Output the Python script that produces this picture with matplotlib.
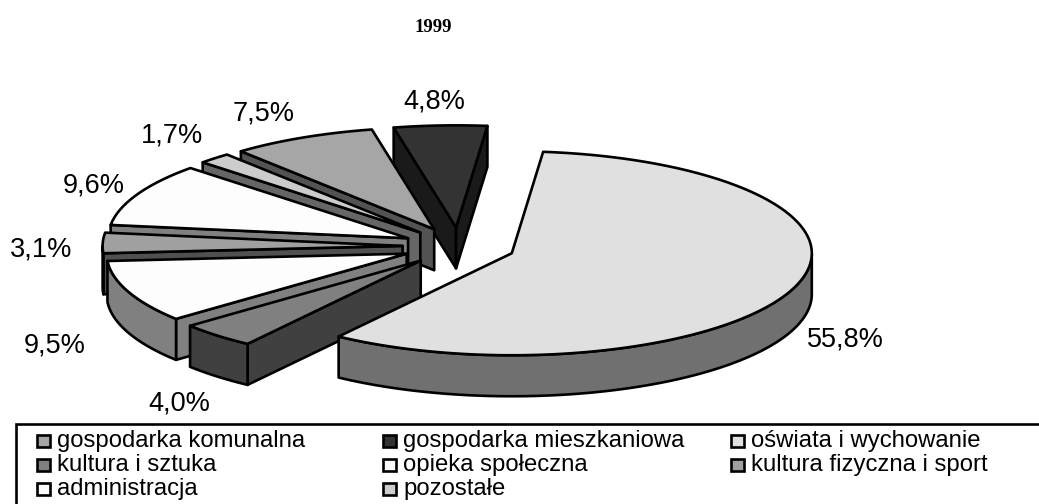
import numpy as np
import matplotlib
matplotlib.use("Agg")
import matplotlib.pyplot as plt
from matplotlib.patches import Polygon, Rectangle

# values as printed on the chart, clockwise from the top
names = ["oświata i wychowanie", "kultura i sztuka", "opieka społeczna",
         "kultura fizyczna i sport", "administracja", "pozostałe",
         "gospodarka komunalna", "gospodarka mieszkaniowa"]
values = [55.8, 4.0, 9.5, 3.1, 9.6, 1.7, 7.5, 4.8]
labels = ["55,8%", "4,0%", "9,5%", "3,1%", "9,6%", "1,7%", "7,5%", "4,8%"]
top_colors = ["#e0e0e0", "#808080", "#fdfdfd", "#a0a0a0", "#fdfdfd", "#cccccc", "#a6a6a6", "#333333"]
wall_colors = ["#707070", "#404040", "#808080", "#505050", "#808080", "#666666", "#535353", "#1a1a1a"]
label_pos = [(845, 339), (179, 404), (55, 346), (41, 250), (94, 185), (172, 135), (264, 114), (434, 102)]

legend_order = ["gospodarka komunalna", "gospodarka mieszkaniowa", "oświata i wychowanie",
                "kultura i sztuka", "opieka społeczna", "kultura fizyczna i sport",
                "administracja", "pozostałe"]

# pie geometry in pixels
cx, cy = 459, 246.5
rx, ry = 300, 102
explode = 0.188
depth = 41
start = 6.0
lw = 1.9

plt.rcParams['font.family'] = ['Liberation Sans', 'DejaVu Sans']
fig = plt.figure(figsize=(10.39, 5.04), dpi=100)
ax = fig.add_axes([0, 0, 1, 1])
ax.set_xlim(0, 1039)
ax.set_ylim(504, 0)
ax.axis("off")


def pt(t, ox, oy, r=1.0):
    t = np.radians(t)
    return ox + r * rx * np.sin(t), oy - r * ry * np.cos(t)


def arc(t0, t1, ox, oy):
    ts = np.linspace(t0, t1, max(int(abs(t1 - t0) * 2), 2))
    x, y = pt(ts, ox, oy)
    return np.column_stack([x, y])


def draw_slice(t0, t1, top, wall):
    mid = (t0 + t1) / 2
    ox, oy = pt(mid, cx, cy, explode)
    poly = dict(edgecolor="black", linewidth=lw, joinstyle="round")
    down = np.array([0, depth])
    apex = np.array([[ox, oy]])
    # radial faces, only if they look towards the viewer
    for t, show in [(t0, np.sin(np.radians(t0)) < 0), (t1, np.sin(np.radians(t1)) > 0)]:
        if show:
            e = np.array([pt(t, ox, oy)])
            ax.add_patch(Polygon(np.vstack([apex, e, e + down, apex + down]), facecolor=wall, **poly))
    # outer rim, front half only
    a0, a1 = max(t0, 90), min(t1, 270)
    if a1 > a0:
        rim = arc(a0, a1, ox, oy)
        ax.add_patch(Polygon(np.vstack([rim, rim[::-1] + down]), facecolor=wall, **poly))
    ax.add_patch(Polygon(np.vstack([apex, arc(t0, t1, ox, oy)]), facecolor=top, **poly))


# the slices fill the full circle, so they are scaled to the sum of the labels
spans = np.array(values) / sum(values) * 360
edges = start + np.concatenate([[0], np.cumsum(spans)])

# back to front
for i in [7, 6, 5, 4, 3, 2, 1, 0]:
    draw_slice(edges[i], edges[i + 1], top_colors[i], wall_colors[i])

for txt, (x, y) in zip(labels, label_pos):
    ax.text(x, y, txt, fontsize=19.5, ha="center", va="center", color="black")

ax.text(433, 27, "1999", fontsize=13.5, fontweight="bold", family="Liberation Serif",
        ha="center", va="center")

# legend box runs off the picture to the right and bottom
ax.plot([1039, 16, 16], [424, 424, 504], color="black", lw=lw, solid_joinstyle="miter")
col_x = [37, 383, 731]
row_y = [441, 465, 489]
for k, name in enumerate(legend_order):
    x, y = col_x[k % 3], row_y[k // 3]
    i = names.index(name)
    ax.add_patch(Rectangle((x, y - 6), 13, 12, facecolor=top_colors[i], edgecolor="black", linewidth=lw))
    ax.text(x + 20, y, name, fontsize=17.2, ha="left", va="center", color="black")

fig.savefig("out.png", dpi=100)
